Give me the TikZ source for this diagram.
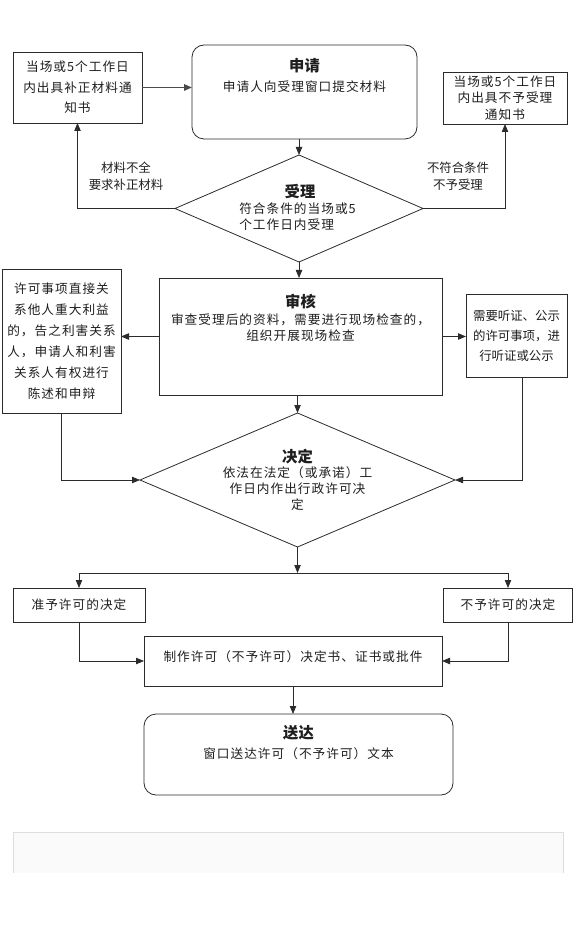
\documentclass[tikz,border=0pt]{standalone}
\usepackage{fontspec}
\setmainfont{Noto Sans CJK SC}
\newfontfamily\spaced[LetterSpace=8]{Noto Sans CJK SC}
\usepackage{xcolor}
\definecolor{Ink}{HTML}{1E1E1E}
\definecolor{Frame}{HTML}{2B2B2B}
\definecolor{Wire}{HTML}{4A4A4A}
\definecolor{Panel}{HTML}{FAFAFA}
\definecolor{PanelEdge}{HTML}{DDDDDD}
\usepackage{tikz}
\usetikzlibrary{positioning,calc,arrows.meta,shapes.geometric}
\newcommand\boxtext[1]{\spaced\fontsize{9.5}{#1}\selectfont}

\begin{document}
\begin{tikzpicture}[x=0.75pt,y=-0.75pt,
 >={Triangle[length=6pt,width=4.8pt]},
 dims/.style 2 args={minimum width=#1*0.75pt,minimum height=#2*0.75pt},
 box/.style={rectangle,draw=Frame,line width=0.6pt,inner sep=0pt,outer sep=0pt,align=center,text=Ink,font=\boxtext{12}},
 rbox/.style={box,rounded corners=9pt},
 choice/.style={diamond,draw=Frame,line width=0.6pt,inner sep=0pt,outer sep=0pt},
 txt/.style={font=\boxtext{12},text=Ink,inner sep=0pt,align=center},
 head/.style={font=\bfseries\fontsize{11.5}{14}\selectfont,text=Ink,inner sep=0pt},
 note/.style={font=\fontsize{9.3}{13}\selectfont,text=Ink,inner sep=0pt,align=center},
 wire/.style={draw=Frame,line width=0.6pt,->}]
\useasboundingbox (0,0) rectangle (577,937);
% 申请
\node[box,dims={129}{71},font=\boxtext{15.4}] (supply) at (77.5,87.5) {当场或5个工作日\\内出具补正材料通\\知书};
\node[rbox,dims={225}{94}] (apply) at (304.5,92) {};
\node[head] (applyhd) at (304.5,66) {申请};
\node[txt] (applytx) at (304.5,87) {申请人向受理窗口提交材料};
\node[box,dims={124}{52},font=\boxtext{12.4}] (reject) at (505,98) {当场或5个工作日\\内出具不予受理\\通知书};
\draw[wire,draw=Wire,line width=1.3pt] (supply.east) -- (supply.east -| apply.west);
% 受理
\node[choice,dims={248}{107}] (accept) at (299,208.5) {};
\node[head] (accepthd) at (300,192) {受理};
\node[txt,align=left,anchor=west] (accepttx) at (239,216.5) {符合条件的当场或5\\个工作日内受理};
\draw[wire] (apply.south -| accept.north) -- (accept.north);
\draw[wire] (accept.west) -| (supply.south);
\draw[wire] (accept.east) -| (reject.south);
\node[note] (lackmsg) at (126,176) {材料不全\\要求补正材料};
\node[note] (failmsg) at (458,176) {不符合条件\\不予受理};
% 审核
\node[box,dims={283}{117}] (review) at (300.5,336.5) {};
\node[head] (reviewhd) at (300.5,302) {审核};
\node[txt] (reviewtx) at (300.5,328) {审查受理后的资料，需要进行现场检查的，\\组织开展现场检查};
\draw[wire] (accept.south) -- (accept.south |- review.north);
\node[box,dims={119}{144},font=\boxtext{15.75}] (defend) at (61.5,341) {许可事项直接关\\系他人重大利益\\的，告之利害关系\\人，申请人和利害\\关系人有权进行\\陈述和申辩};
\node[box,dims={101}{83},font=\fontsize{9.3}{15}\selectfont] (hearing) at (516.5,335.5) {需要听证、公示\\的许可事项，进\\行听证或公示};
\draw[wire] (review.west) -- (review.west -| defend.east);
\draw[wire] (review.east) -- (review.east -| hearing.west);
% 决定
\node[choice,dims={315}{134}] (decide) at (297.5,480) {};
\node[head] (decidehd) at (297.5,457) {决定};
\node[txt] (decidetx) at (297.5,489) {依法在法定（或承诺）工\\作日内作出行政许可决\\定};
\draw[wire] (review.south -| decide.north) -- (decide.north);
\draw[wire] (defend.south) |- (decide.west);
\draw[wire] ([xshift=4.5pt]hearing.south) |- (decide.east);
% 结果
\coordinate (fork) at (297.5,573);
\draw[wire] (decide.south) -- (fork);
\node[box,dims={132}{34}] (grant) at (79,605) {准予许可的决定};
\node[box,dims={129}{34}] (deny) at (508,605) {不予许可的决定};
\draw[wire] (fork) -| (grant.north);
\draw[wire] (fork) -| (deny.north);
\node[box,dims={298}{50}] (make) at (293,661) {};
\node[txt] (maketx) at (293,657) {制作许可（不予许可）决定书、证书或批件};
\draw[wire] (grant.south) |- (make.west);
\draw[wire] (deny.south) |- (make.east);
% 送达
\node[rbox,dims={309}{81}] (deliver) at (298.5,754.5) {};
\node[head] (deliverhd) at (298.5,733) {送达};
\node[txt] (delivertx) at (298.5,754) {窗口送达许可（不予许可）文本};
\draw[wire] (make.south) -- (make.south |- deliver.north);
% 底部
\fill[Panel] (13,832) rectangle (563,873);
\draw[PanelEdge] (13,873) -- (13,832) -- (563,832) -- (563,873);
\end{tikzpicture}
\end{document}
